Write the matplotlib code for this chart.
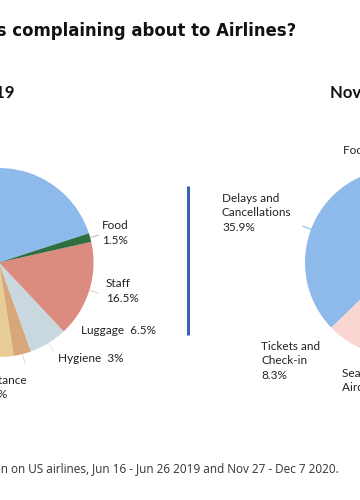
import matplotlib
matplotlib.use('Agg')
import matplotlib.pyplot as plt
import numpy as np

plt.rcParams['font.family'] = ['Lato', 'DejaVu Sans']

# categories in drawing order (counter-clockwise), same order for both years
categories = ['Delays and Cancellations', 'Tickets and Check-in', 'Seating and Aircraft',
              'Other', 'Assistance', 'Hygiene', 'Luggage', 'Staff', 'Food']
share_2019 = [30.0, 12.0, 15.0, 7.5, 8.0, 3.0, 6.5, 16.5, 1.5]
share_2020 = [35.9, 8.3, 14.0, 6.0, 5.0, 9.0, 6.0, 14.5, 1.3]
colors = ['#8dbaea', '#f9d6d1', '#b9c9e0', '#e3e3e3', '#e8cc95',
          '#d6a77b', '#c9d7df', '#dc8c7e', '#2f6e40']

W, H = 360, 500

def py(y):
    # image pixel row -> data y (y axis points up)
    return H - y

fig = plt.figure(figsize=(3.6, 5), dpi=100)
ax = fig.add_axes([0, 0, 1, 1])

def draw_pie(values, center, radius, start):
    wedges, _ = ax.pie(values, colors=colors, startangle=start, counterclock=True,
                       center=center, radius=radius, frame=True,
                       wedgeprops=dict(linewidth=0))
    return wedges

left_c, left_r = (-1, py(262.5)), 94.5
right_c, right_r = (399, py(262.5)), 94
w19 = draw_pie(share_2019, left_c, left_r, 18)
w20 = draw_pie(share_2020, right_c, right_r, 90 + 3.6 * share_2020[-1])

def leader(w, c, r, color, alpha=1.0, lw=0.8):
    th = np.deg2rad((w.theta1 + w.theta2) / 2)
    xs = [c[0] + r * np.cos(th), c[0] + 1.1 * r * np.cos(th)]
    ys = [c[1] + r * np.sin(th), c[1] + 1.1 * r * np.sin(th)]
    ax.plot(xs, ys, color=color, lw=lw, alpha=alpha, solid_capstyle='butt')

leader(w19[8], left_c, left_r, '#b8c4b8')
leader(w19[7], left_c, left_r, '#e8b8ae', 0.7)
leader(w19[6], left_c, left_r, '#dde5ea', 0.8)
leader(w19[5], left_c, left_r, '#ead2b8', 0.8)
leader(w20[0], right_c, right_r, '#8dbaea')

txt = dict(fontsize=8.5, color='#222222', linespacing=1.35, va='center')
ax.text(115, py(233), 'Food\n1.5%', ha='center', **txt)
ax.text(106, py(291), 'Staff\n16.5%', ha='left', **txt)
ax.text(81, py(331), 'Luggage  6.5%', ha='left', **txt)
ax.text(58, py(358), 'Hygiene  3%', ha='left', **txt)
ax.text(0, py(387.5), 'Assistance\n8%', ha='center', **txt)

ax.text(222, py(213), 'Delays and\nCancellations\n35.9%', ha='left', **txt)
ax.text(261, py(361), 'Tickets and\nCheck-in\n8.3%', ha='left', **txt)
ax.text(342, py(380.5), 'Seating and\nAircraft 14%', ha='left', **txt)
ax.text(343, py(150), 'Food  1.3%', ha='left', **txt)

# divider between the two pies
ax.plot([188, 188], [py(186), py(335)], color='#3a63b5', lw=2.2, solid_capstyle='butt')

ax.text(296, py(31), 'What are passengers complaining about to Airlines?',
        ha='right', va='center', fontsize=11.9, fontweight='bold', color='#111111',
        family=['DejaVu Sans'])
ax.text(14, py(93), 'Jun 2019', ha='right', va='center', fontsize=12,
        fontweight='bold', color='#111111')
ax.text(330, py(93), 'Nov 2020', ha='left', va='center', fontsize=12,
        fontweight='bold', color='#111111')
ax.text(339, py(469), 'Source: Twitter complaints from flights taken on US airlines, '
        'Jun 16 - Jun 26 2019 and Nov 27 - Dec 7 2020.',
        ha='right', va='center', fontsize=8.5, color='#333333', family=['Open Sans'])

ax.set_xlim(0, W)
ax.set_ylim(0, H)
ax.axis('off')

fig.savefig('out.png', dpi=100)
